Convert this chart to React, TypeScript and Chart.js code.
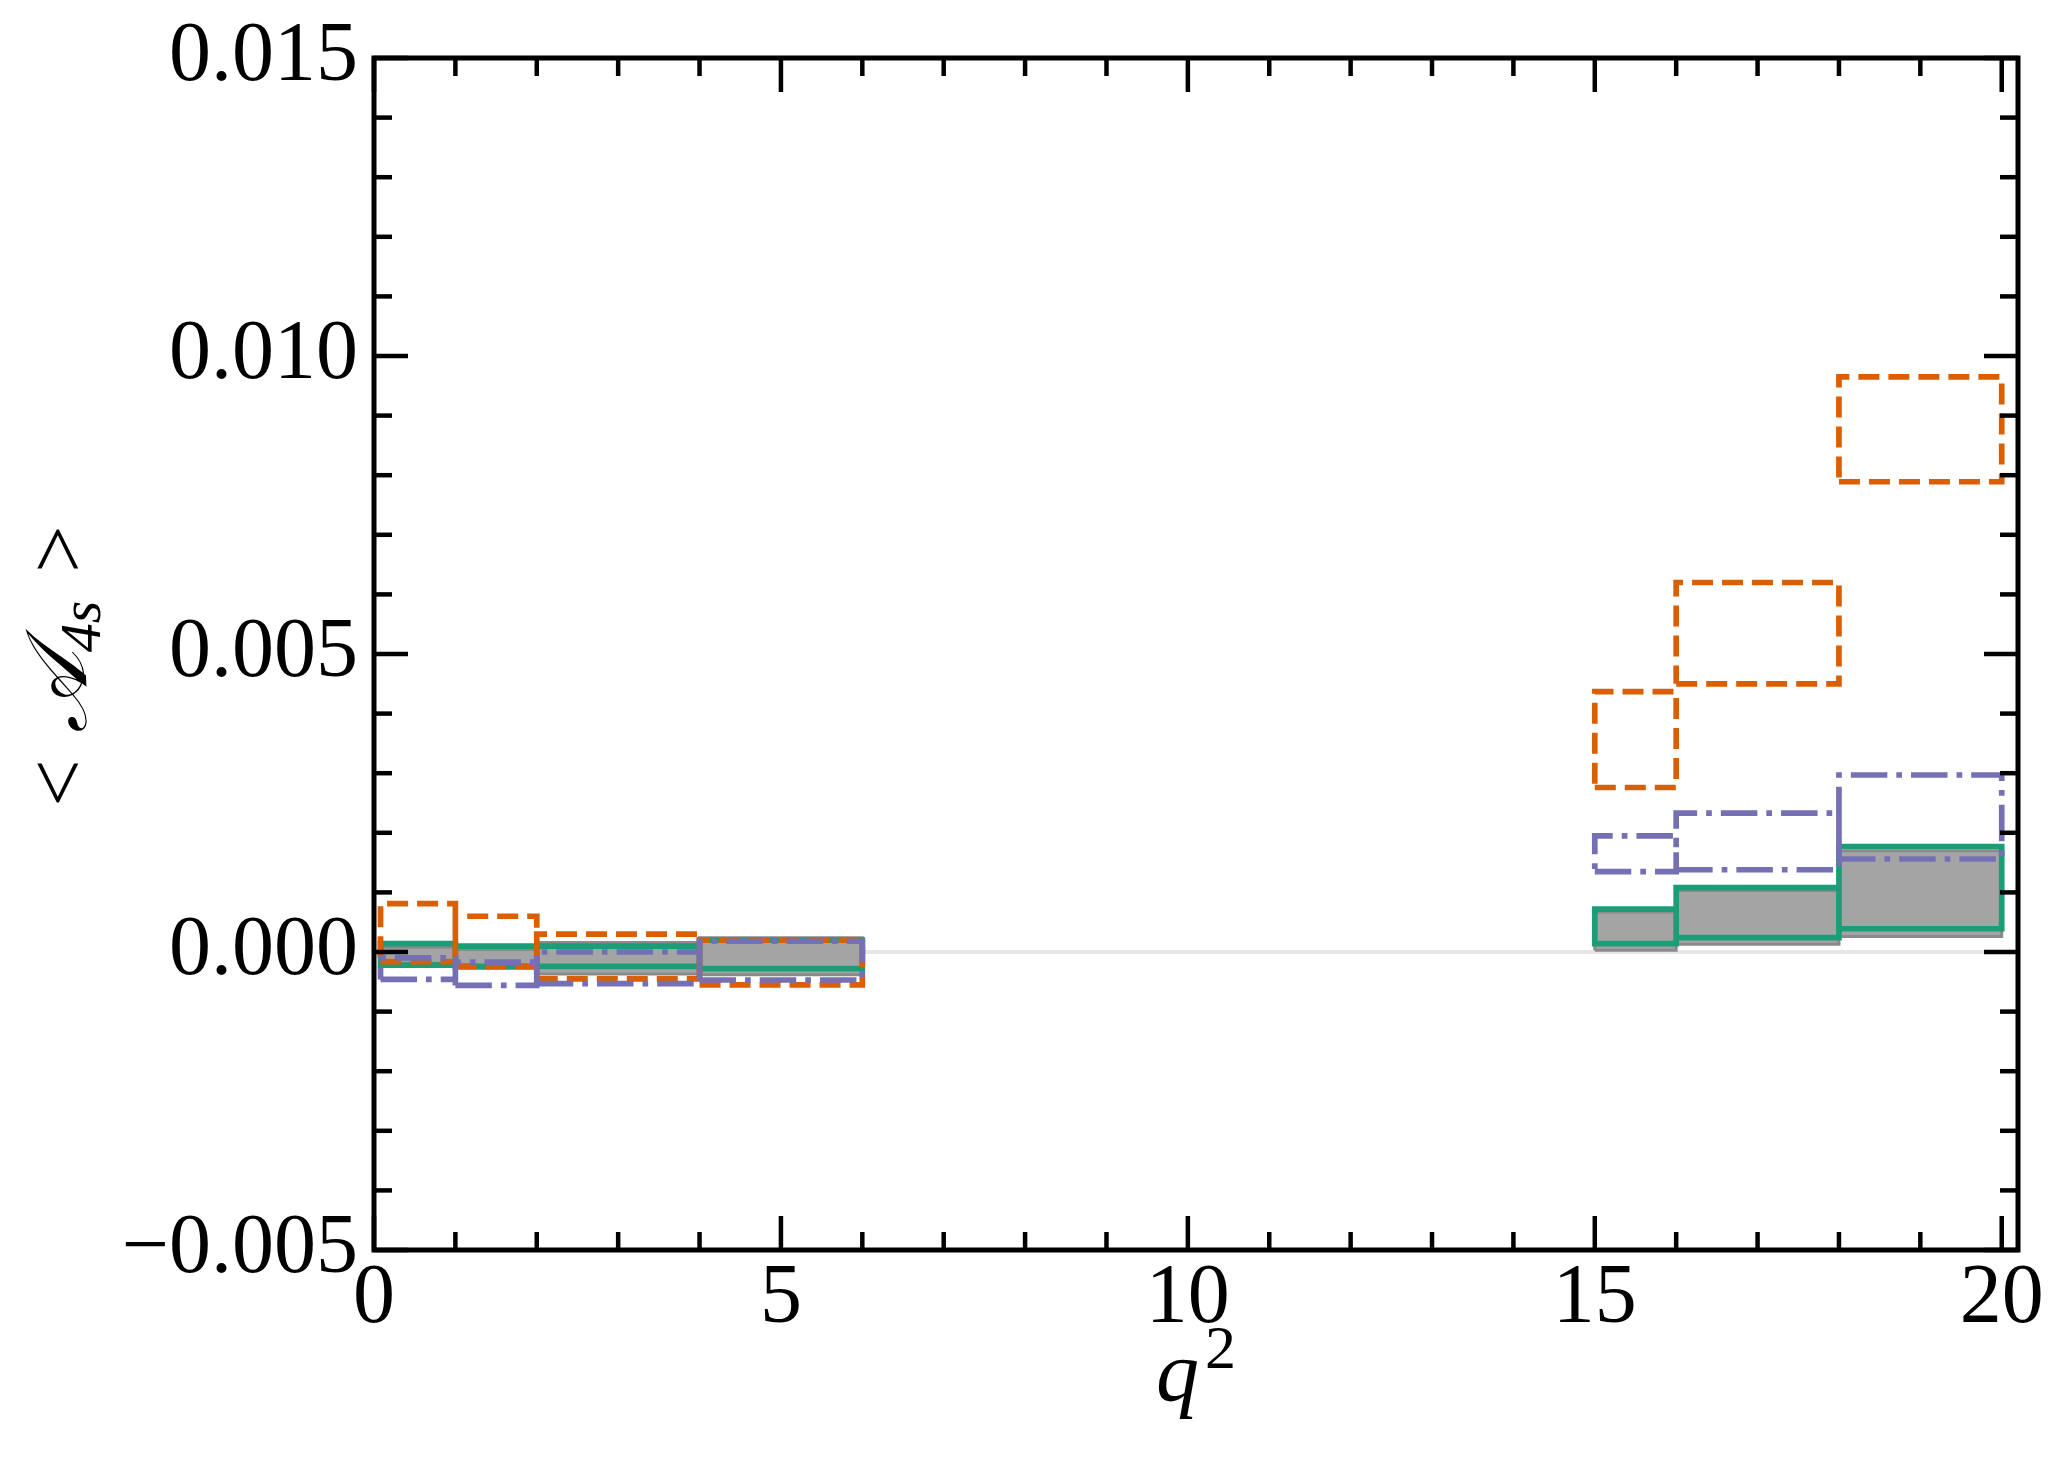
import React, { useEffect, useRef } from 'react';
import { Chart, registerables } from 'chart.js';

Chart.register(...registerables);

// q^2 bins
const binLo = [0.08, 1, 2, 4, 15, 16, 18];
const binHi = [1, 2, 4, 6, 16, 18, 20];

// grey filled band
const greyLo = [-0.00019, -0.00021, -0.00037, -0.00038, 0.00003, 0.00013, 0.00026];
const greyHi = [0.00008, 0.00004, 0.00016, 0.00024, 0.00067, 0.00103, 0.0017];

// green solid boxes
const greenLo = [-0.00022, -0.00025, -0.00024, -0.00028, 0.00014, 0.00024, 0.00039];
const greenHi = [0.00014, 0.0001, 0.0001, 0.0002, 0.00072, 0.00108, 0.00177];

// orange dashed boxes
const orangeLo = [-0.00016, -0.00024, -0.00045, -0.00055, 0.00276, 0.0045, 0.00789];
const orangeHi = [0.00081, 0.0006, 0.0003, 0.0002, 0.00437, 0.0062, 0.00965];

// purple dash-dot boxes
const purpleLo = [-0.00046, -0.00056, -0.00053, -0.00047, 0.00135, 0.00138, 0.00156];
const purpleHi = [-0.0001, -0.00017, 0.0, 0.00018, 0.00195, 0.00233, 0.00297];

const xTicks = [0, 5, 10, 15, 20];
const xTickLabels = ['0', '5', '10', '15', '20'];
const yTicks = [-0.005, 0, 0.005, 0.01, 0.015];
const yTickLabels = ['\u22120.005', '0.000', '0.005', '0.010', '0.015'];

const X_MIN = 0;
const X_MAX = 20.2;
const Y_MIN = -0.005;
const Y_MAX = 0.015;

const SERIF = "'Liberation Serif', 'DejaVu Serif', serif";

function rects(lo: number[], hi: number[]) {
  const pts: any[] = [];
  for (let i = 0; i < binLo.length; i++) {
    pts.push(
      { x: binLo[i], y: lo[i] },
      { x: binHi[i], y: lo[i] },
      { x: binHi[i], y: hi[i] },
      { x: binLo[i], y: hi[i] },
      { x: binLo[i], y: lo[i] },
      { x: NaN, y: NaN }
    );
  }
  return pts;
}

const frameTicks = {
  id: 'frameTicks',
  afterDatasetsDraw(chart: any) {
    const { ctx, chartArea: a, scales } = chart;
    const xs = scales.x;
    const ys = scales.y;
    ctx.save();
    ctx.strokeStyle = '#000';
    ctx.lineCap = 'butt';
    ctx.lineWidth = 4.5;
    const seg = (x1: number, y1: number, x2: number, y2: number) => {
      ctx.beginPath();
      ctx.moveTo(x1, y1);
      ctx.lineTo(x2, y2);
      ctx.stroke();
    };
    const MAJ = 34;
    const MIN = 18;
    const xMinor = Array.from({ length: 21 }, (_, i) => i);
    const yMinor = Array.from({ length: 21 }, (_, i) => -0.005 + i * 0.001);
    xMinor.forEach((v) => {
      const len = xTicks.some((t) => Math.abs(t - v) < 1e-9) ? MAJ : MIN;
      const px = xs.getPixelForValue(v);
      seg(px, a.bottom, px, a.bottom - len);
      seg(px, a.top, px, a.top + len);
    });
    yMinor.forEach((v) => {
      const len = yTicks.some((t) => Math.abs(t - v) < 1e-9) ? MAJ : MIN;
      const py = ys.getPixelForValue(v);
      seg(a.left, py, a.left + len, py);
      seg(a.right, py, a.right - len, py);
    });
    ctx.lineWidth = 5;
    ctx.lineJoin = 'miter';
    ctx.strokeRect(a.left, a.top, a.right - a.left, a.bottom - a.top);
    ctx.restore();
  },
  afterDraw(chart: any) {
    const { ctx, chartArea: a } = chart;
    ctx.save();
    ctx.fillStyle = '#000';
    // x title: q^2
    const cx = (a.left + a.right) / 2;
    ctx.textBaseline = 'alphabetic';
    ctx.font = `italic 86px ${SERIF}`;
    const qW = ctx.measureText('q').width;
    ctx.font = `62px ${SERIF}`;
    const twoW = ctx.measureText('2').width;
    const startX = cx - (qW + twoW + 6) / 2;
    ctx.font = `italic 86px ${SERIF}`;
    ctx.textAlign = 'left';
    ctx.fillText('q', startX, 1400);
    ctx.font = `62px ${SERIF}`;
    ctx.fillText('2', startX + qW + 6, 1368);

    // y title: < A_4s >
    ctx.translate(86, (a.top + a.bottom) / 2 + 12);
    ctx.rotate(-Math.PI / 2);
    const parts = [
      { t: '<', f: `84px ${SERIF}`, dy: 0, gap: 26 },
      { t: '\uD835\uDC9C', f: `italic 86px ${SERIF}`, dy: 0, gap: 0 },
      { t: '4s', f: `italic 58px ${SERIF}`, dy: 14, gap: 28 },
      { t: '>', f: `84px ${SERIF}`, dy: 0, gap: 0 },
    ];
    let total = 0;
    parts.forEach((p) => {
      ctx.font = p.f;
      total += ctx.measureText(p.t).width + p.gap;
    });
    let x = -total / 2;
    parts.forEach((p) => {
      ctx.font = p.f;
      ctx.fillText(p.t, x, p.dy);
      x += ctx.measureText(p.t).width + p.gap;
    });
    ctx.restore();
  },
};

export default function App() {
  const ref = useRef<HTMLCanvasElement | null>(null);

  useEffect(() => {
    if (!ref.current) return;
    const chart = new Chart(ref.current, {
      type: 'scatter',
      data: {
        datasets: [
          {
            label: 'purple',
            data: rects(purpleLo, purpleHi),
            showLine: true,
            borderColor: '#7570b3',
            borderWidth: 5.7,
            borderDash: [36.5, 9, 5.7, 9],
            borderJoinStyle: 'miter',
            borderCapStyle: 'butt',
            pointRadius: 0,
            pointHoverRadius: 0,
            spanGaps: false,
            fill: false,
            tension: 0,
          },
          {
            label: 'orange',
            data: rects(orangeLo, orangeHi),
            showLine: true,
            borderColor: '#d95f02',
            borderWidth: 5.7,
            borderDash: [21, 9],
            borderJoinStyle: 'miter',
            borderCapStyle: 'butt',
            pointRadius: 0,
            pointHoverRadius: 0,
            spanGaps: false,
            fill: false,
            tension: 0,
          },
          {
            label: 'green',
            data: rects(greenLo, greenHi),
            showLine: true,
            borderColor: '#1b9e77',
            borderWidth: 5.7,
            borderJoinStyle: 'miter',
            borderCapStyle: 'square',
            pointRadius: 0,
            pointHoverRadius: 0,
            spanGaps: false,
            fill: false,
            tension: 0,
          },
          {
            label: 'grey',
            data: rects(greyLo, greyHi),
            showLine: true,
            borderColor: '#8a8a8a',
            backgroundColor: '#a4a4a4',
            borderWidth: 3,
            borderJoinStyle: 'miter',
            pointRadius: 0,
            pointHoverRadius: 0,
            spanGaps: false,
            fill: 'shape',
            tension: 0,
          },
          {
            label: 'zero',
            data: [
              { x: X_MIN, y: 0 },
              { x: X_MAX, y: 0 },
            ],
            showLine: true,
            borderColor: '#e6e6e6',
            borderWidth: 4,
            pointRadius: 0,
            pointHoverRadius: 0,
            fill: false,
          },
        ] as any,
      },
      options: {
        animation: false,
        responsive: true,
        maintainAspectRatio: false,
        devicePixelRatio: 1,
        layout: { padding: { left: 0, top: 58, right: 51, bottom: 0 } },
        plugins: {
          legend: { display: false },
          tooltip: { enabled: false },
        },
        events: [],
        scales: {
          x: {
            type: 'linear',
            min: X_MIN,
            max: X_MAX,
            grid: { display: false },
            border: { display: false },
            afterBuildTicks: (s: any) => {
              s.ticks = xTicks.map((v) => ({ value: v }));
            },
            afterFit: (s: any) => {
              s.height = 219;
              s.paddingLeft = 0;
              s.paddingRight = 0;
            },
            ticks: {
              autoSkip: false,
              maxRotation: 0,
              padding: -8,
              color: '#000',
              font: { family: SERIF, size: 84 },
              callback: (_v: any, i: number) => xTickLabels[i],
            },
          },
          y: {
            type: 'linear',
            min: Y_MIN,
            max: Y_MAX,
            grid: { display: false },
            border: { display: false },
            afterBuildTicks: (s: any) => {
              s.ticks = yTicks.map((v) => ({ value: v }));
            },
            afterFit: (s: any) => {
              s.width = 374;
              s.paddingTop = 0;
              s.paddingBottom = 0;
            },
            ticks: {
              autoSkip: false,
              padding: 8,
              color: '#000',
              font: { family: SERIF, size: 84 },
              callback: (_v: any, i: number) => yTickLabels[i],
            },
          },
        },
      } as any,
      plugins: [frameTicks],
    });
    return () => chart.destroy();
  }, []);

  return (
    <div
      style={{
        position: 'fixed',
        left: 0,
        top: 0,
        width: '2069px',
        height: '1469px',
        background: '#fff',
      }}
    >
      <canvas ref={ref} />
    </div>
  );
}
